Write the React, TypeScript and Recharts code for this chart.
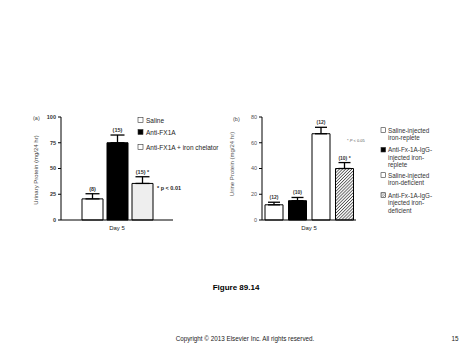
import React from 'react';
import { BarChart, Bar, XAxis, YAxis, ErrorBar, LabelList } from 'recharts';

// ---------- Panel (a) ----------
const categoriesA = ['Day 5'];
const seriesA = ['Saline', 'Anti-FX1A', 'Anti-FX1A + iron chelator'];
const valuesA = [20.5, 75, 35.5];
const errorsA = [5, 7.5, 6.5];
const countsA = ['(8)', '(15)', '(15) *'];
const ticksA = [0, 25, 50, 75, 100];
const fillsA = ['#ffffff', '#000000', '#eeeeee'];

// ---------- Panel (b) ----------
const categoriesB = ['Day 5'];
const seriesB = [
  ['Saline-injected', 'iron-replete'],
  ['Anti-Fx-1A-IgG-', 'injected iron-', 'replete'],
  ['Saline-injected', 'iron-deficient'],
  ['Anti-Fx-1A-IgG-', 'injected iron-', 'deficient'],
];
const valuesB = [11.8, 15, 67, 40];
const errorsB = [2, 2.5, 5, 4.6];
const countsB = ['(12)', '(10)', '(12)', '(10) *'];
const ticksB = [0, 20, 40, 60, 80];
const fillsB = ['#ffffff', '#000000', '#ffffff', 'url(#hatchB)'];

const dataA = categoriesA.map((c) => {
  const row: any = { cat: c };
  valuesA.forEach((v, i) => {
    row['v' + i] = v;
    row['e' + i] = [0, errorsA[i]];
    row['n' + i] = countsA[i];
  });
  return row;
});

const dataB = categoriesB.map((c) => {
  const row: any = { cat: c };
  valuesB.forEach((v, i) => {
    row['v' + i] = v;
    row['e' + i] = [0, errorsB[i]];
    row['n' + i] = countsB[i];
  });
  return row;
});

const FONT = '"Liberation Sans", Arial, sans-serif';

const makeLabel = (val: number, err: number, fs: number) => (props: any) => {
  const x = props.x ?? props.viewBox?.x;
  const y = props.y ?? props.viewBox?.y;
  const w = props.width ?? props.viewBox?.width;
  const h = props.height ?? props.viewBox?.height;
  const px = (Math.abs(h) / val) * err;
  return (
    <text
      x={x + w / 2}
      y={y - px - 3}
      textAnchor="middle"
      fontSize={fs}
      fontFamily={FONT}
      fontWeight="bold"
      fill="#333"
    >
      {props.value}
    </text>
  );
};

const tickStyle = { fontSize: 5.5, fontFamily: FONT, fill: '#333' };

export default function App() {
  return (
    <div style={{ position: 'fixed', left: 0, top: 0, width: 474, height: 355, background: '#fff' }}>
      <div style={{ position: 'absolute', left: 0, top: 0 }}>
        <BarChart
          width={220}
          height={245}
          data={dataA}
          margin={{ top: 117, right: 47, bottom: 0, left: 31 }}
          barSize={21}
          barGap={4}
        >
          <XAxis
            dataKey="cat"
            tickLine={false}
            tickSize={4}
            tickMargin={2}
            height={25}
            stroke="#000"
            tick={{ fontSize: 6, fontFamily: FONT, fill: '#222' }}
          />
          <YAxis
            domain={[0, 100]}
            ticks={ticksA}
            width={30}
            tickSize={3}
            tickMargin={2}
            stroke="#000"
            tick={{ ...tickStyle, fontWeight: 'bold' }}
          />
          {valuesA.map((v, i) => (
            <Bar
              key={i}
              dataKey={'v' + i}
              name={seriesA[i]}
              fill={fillsA[i]}
              stroke="#000"
              strokeWidth={1}
              isAnimationActive={false}
            >
              <ErrorBar dataKey={'e' + i} width={7} stroke="#000" strokeWidth={1.3} direction="y" />
              <LabelList dataKey={'n' + i} content={makeLabel(v, errorsA[i], 5.5)} />
            </Bar>
          ))}
        </BarChart>
      </div>

      <div style={{ position: 'absolute', left: 200, top: 0 }}>
        <BarChart
          width={170}
          height={245}
          data={dataB}
          margin={{ top: 117, right: 14, bottom: 0, left: 32 }}
          barSize={18}
          barGap={5.5}
        >
          <defs>
            <pattern id="hatchB" width="2.2" height="2.2" patternUnits="userSpaceOnUse" patternTransform="rotate(45)">
              <rect width="2.2" height="2.2" fill="#f4f4f4" />
              <line x1="0" y1="0" x2="0" y2="2.2" stroke="#333" strokeWidth="1.3" />
            </pattern>
          </defs>
          <XAxis
            dataKey="cat"
            tickLine={false}
            tickSize={4}
            tickMargin={2}
            height={25}
            stroke="#000"
            tick={{ fontSize: 6, fontFamily: FONT, fill: '#222' }}
          />
          <YAxis
            domain={[0, 80]}
            ticks={ticksB}
            width={30}
            tickSize={3}
            tickMargin={2}
            stroke="#000"
            tick={{ ...tickStyle, fill: '#555' }}
          />
          {valuesB.map((v, i) => (
            <Bar
              key={i}
              dataKey={'v' + i}
              name={seriesB[i].join(' ')}
              fill={fillsB[i]}
              stroke="#000"
              strokeWidth={1}
              isAnimationActive={false}
            >
              <ErrorBar dataKey={'e' + i} width={6} stroke="#000" strokeWidth={1.3} direction="y" />
              <LabelList dataKey={'n' + i} content={makeLabel(v, errorsB[i], 5)} />
            </Bar>
          ))}
        </BarChart>
      </div>

      <svg
        width={474}
        height={355}
        style={{ position: 'absolute', left: 0, top: 0, pointerEvents: 'none' }}
        fontFamily={FONT}
      >
        {/* panel (a) annotations */}
        <text x={33} y={120} fontSize={5.5} fill="#444">(a)</text>
        <text
          x={36}
          y={170}
          fontSize={6}
          fill="#444"
          textAnchor="middle"
          dominantBaseline="central"
          transform="rotate(-90 36 170)"
        >
          Urinary Protein (mg/24 hr)
        </text>
        {seriesA.map((s, i) => {
          const ys = [120, 132, 147];
          return (
            <g key={s}>
              <rect x={138} y={ys[i] - 2.5} width={5} height={5} fill={fillsA[i] === '#eeeeee' ? '#fff' : fillsA[i]} stroke="#333" strokeWidth={0.6} />
              <text x={146} y={ys[i]} fontSize={6.5} fill="#222" dominantBaseline="central">{s}</text>
            </g>
          );
        })}
        <text x={157} y={188} fontSize={5.5} fill="#222" dominantBaseline="central" fontWeight="bold">* p &lt; 0.01</text>

        {/* panel (b) annotations */}
        <text x={233} y={121} fontSize={5.5} fill="#444">(b)</text>
        <text
          x={232}
          y={164}
          fontSize={6}
          fill="#555"
          textAnchor="middle"
          dominantBaseline="central"
          transform="rotate(-90 232 164)"
        >
          Urine Protein (mg/24 hr)
        </text>
        <text x={347} y={140} fontSize={4} fill="#555" dominantBaseline="central">
          * <tspan fontStyle="italic">P</tspan> &lt; 0.05
        </text>
        {seriesB.map((lines, i) => {
          const starts = [130, 149.7, 175, 195];
          return (
            <g key={i}>
              <rect
                x={381}
                y={starts[i] - 2.3}
                width={4.6}
                height={4.6}
                fill={i === 3 ? 'url(#hatchLeg)' : fillsB[i]}
                stroke="#333"
                strokeWidth={0.6}
              />
              {lines.map((l, j) => (
                <text key={j} x={388} y={starts[i] + j * 7.5} fontSize={6.3} fill="#333" dominantBaseline="central">
                  {l}
                </text>
              ))}
            </g>
          );
        })}
        <defs>
          <pattern id="hatchLeg" width="1.6" height="1.6" patternUnits="userSpaceOnUse" patternTransform="rotate(45)">
            <rect width="1.6" height="1.6" fill="#fff" />
            <line x1="0" y1="0" x2="0" y2="1.6" stroke="#333" strokeWidth="0.8" />
          </pattern>
        </defs>

        {/* footer */}
        <text x={236} y={287} fontSize={8} fontWeight="bold" fill="#000" textAnchor="middle" dominantBaseline="central">
          Figure 89.14
        </text>
        <text x={245} y={338} fontSize={6.3} fill="#222" textAnchor="middle" dominantBaseline="central">
          Copyright © 2013 Elsevier Inc. All rights reserved.
        </text>
        <text x={455} y={338} fontSize={6.3} fill="#222" textAnchor="middle" dominantBaseline="central">
          15
        </text>
      </svg>
    </div>
  );
}
